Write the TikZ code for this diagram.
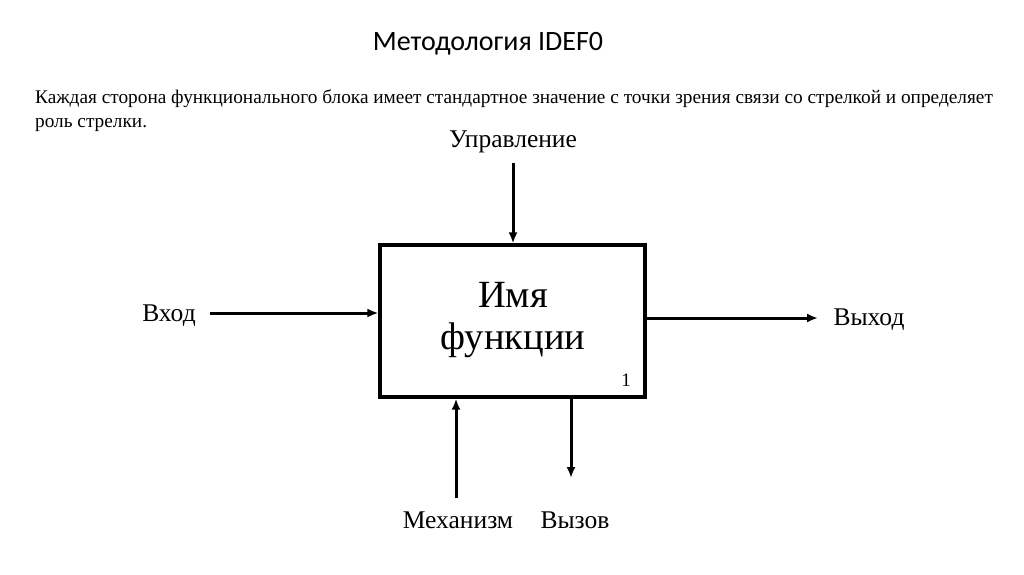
\documentclass[tikz,border=0pt]{standalone}
\usepackage{fontspec}
\setmainfont{Liberation Serif}
\newfontfamily\titlefont{Carlito}
\usetikzlibrary{arrows.meta}
\begin{document}
\begin{tikzpicture}[x=1pt, y=-1pt,
  lbl/.style={font=\fontsize{25.5}{30}\selectfont, inner sep=0pt},
  arr/.style={-{Latex[length=11pt,width=9pt]}, line width=3pt}]
  \useasboundingbox (0,0) rectangle (1024,574);
  % heading and explanation
  \node[font=\titlefont\fontsize{28}{32}\selectfont, inner sep=0pt] (title) at (488,44) {Методология IDEF0};
  \node[font=\fontsize{19.3}{24}\selectfont, anchor=north west, align=left, inner sep=0pt] (intro) at (35,89)
    {Каждая сторона функционального блока имеет стандартное значение с точки зрения связи со стрелкой и определяет\\роль стрелки.};
  % function block
  \node[draw, line width=3.2pt, minimum width=265pt, minimum height=152pt, inner sep=0pt] (box) at (512.5,321) {};
  \node[font=\fontsize{38.5}{42}\selectfont, align=center, inner sep=0pt] (name) at (513,320) {Имя\\функции};
  \node[font=\fontsize{19}{20}\selectfont, inner sep=0pt] (num) at (626,380) {1};
  % arrow labels
  \node[lbl] (ctrl) at (513,142) {Управление};
  \node[lbl] (inp) at (169,316) {Вход};
  \node[lbl] (outp) at (869,320) {Выход};
  \node[lbl] (mech) at (458,520) {Механизм};
  \node[lbl] (call) at (575,520) {Вызов};
  \coordinate (ctrlS) at (513,163);
  \coordinate (inS) at (210,313);
  \coordinate (outE) at (818,318);
  \coordinate (mechS) at (456,498);
  \coordinate (callE) at (571,478);
  % arrows
  \draw[arr] (ctrlS) -- (ctrlS |- box.north);
  \draw[arr] (inS) -- (inS -| box.west);
  \draw[arr] (outE -| box.east) -- (outE);
  \draw[arr] (mechS) -- (mechS |- box.south);
  \draw[arr] (callE |- box.south) -- (callE);
\end{tikzpicture}
\end{document}
